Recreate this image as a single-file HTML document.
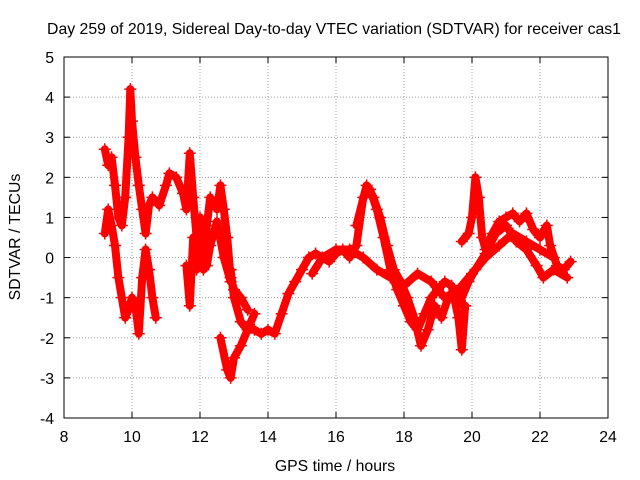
<!DOCTYPE html>
<html><head><meta charset="utf-8"><style>
html,body{margin:0;padding:0;background:#fff}
svg{display:block;font-family:"Liberation Sans",sans-serif}
</style></head><body>
<svg id="chart" width="640" height="480" xmlns="http://www.w3.org/2000/svg">
<rect width="640" height="480" fill="#fff"/>
<g id="grid"></g>
<g id="series"></g>
<rect x="64" y="57" width="544" height="361" fill="none" stroke="#000" stroke-width="1"/>
<g id="ticks"></g>
<text x="334" y="34" font-size="15.8" text-anchor="middle">Day 259 of 2019, Sidereal Day-to-day VTEC variation (SDTVAR) for receiver cas1</text>
<text x="335" y="471" font-size="15.8" text-anchor="middle">GPS time / hours</text>
<text x="0" y="0" font-size="15.8" text-anchor="middle" transform="translate(20,237) rotate(-90)">SDTVAR / TECUs</text>
</svg>
<script>
const xTicks=[8,10,12,14,16,18,20,22,24];
const yTicks=[-4,-3,-2,-1,0,1,2,3,4,5];
const track1=[[9.2,0.6],[9.3,1.2],[9.4,0.8],[9.5,0.3],[9.6,-0.5],[9.7,-1.0],[9.8,-1.5],[9.9,-1.3],[10.0,-1.0],[10.1,-1.2],[10.2,-1.9],[10.3,-0.5],[10.4,0.2],[10.5,-0.3],[10.6,-1.0],[10.7,-1.5]];
const track2=[[9.2,2.7],[9.3,2.3],[9.4,2.5],[9.5,1.8],[9.6,1.0],[9.7,0.8],[9.8,1.5],[9.9,3.0],[9.95,4.2],[10.0,3.4],[10.1,2.5],[10.2,1.8],[10.3,1.2],[10.4,0.6],[10.5,1.3],[10.6,1.5],[10.8,1.3],[11.0,1.8],[11.1,2.1],[11.3,2.0],[11.5,1.6],[11.6,1.2],[11.7,2.6],[11.8,1.5],[11.9,0.5],[12.0,0.0],[12.1,-0.3],[12.2,0.8],[12.3,1.5],[12.5,1.2],[12.6,1.8],[12.7,1.2],[12.8,0.5],[12.9,-0.5],[13.0,-0.8],[13.2,-1.0],[13.4,-1.3]];
const track3=[[11.6,-0.2],[11.7,-1.2],[11.8,0.5],[11.9,-0.3],[12.0,1.0],[12.1,0.5],[12.2,-0.2],[12.3,0.3],[12.5,0.9],[12.7,0.0],[12.9,-0.6]];
const track4=[[12.9,-0.3],[13.0,-1.0],[13.2,-1.6],[13.4,-1.8],[13.6,-1.8],[13.8,-1.9],[14.0,-1.8],[14.2,-1.9],[14.4,-1.4],[14.6,-0.9],[14.8,-0.6],[15.0,-0.3],[15.2,0.0],[15.4,0.1],[15.6,0.0],[15.8,-0.1],[16.0,0.1],[16.2,0.2],[16.4,0.0],[16.6,0.3],[16.8,1.5],[17.0,1.7],[17.2,1.2],[17.4,0.5],[17.6,-0.3],[17.8,-0.8],[18.0,-1.2],[18.2,-1.6],[18.4,-1.8],[18.6,-1.4],[18.8,-1.0],[19.0,-0.8],[19.2,-0.6],[19.4,-0.7],[19.6,-1.5],[19.7,-2.3],[19.8,-1.2]];
const track5=[[12.6,-2.0],[12.8,-2.8],[12.9,-3.0],[13.0,-2.5],[13.2,-2.2],[13.4,-1.8],[13.6,-1.4]];
const track6=[[15.3,-0.4],[15.6,0.0],[16.0,0.2],[16.4,0.2],[16.8,0.0],[17.2,-0.3],[17.6,-0.5],[18.0,-0.7],[18.4,-0.4],[18.8,-0.6],[19.2,-1.0],[19.6,-0.8],[20.0,-0.4],[20.4,0.0],[20.8,0.3],[21.2,0.6],[21.6,0.4],[22.0,0.2],[22.4,0.0]];
const track7=[[16.6,0.8],[16.9,1.8],[17.1,1.5],[17.3,1.0],[17.5,0.3],[17.7,-0.3],[17.9,-0.6],[18.1,-1.0],[18.3,-1.5],[18.5,-2.2],[18.7,-1.8],[18.9,-1.2],[19.1,-1.5],[19.3,-1.0],[19.5,-0.9]];
const track8=[[19.7,0.4],[19.9,0.6],[20.0,1.0],[20.1,2.0],[20.2,1.5],[20.3,0.5],[20.4,0.2],[20.6,0.6],[20.8,0.9],[21.0,1.0],[21.2,1.1],[21.4,0.9],[21.6,1.1],[21.8,0.7],[22.0,0.5],[22.2,0.8],[22.3,0.3],[22.5,-0.2],[22.7,-0.3],[22.9,-0.1]];
const track9=[[19.6,-1.2],[19.9,-0.6],[20.1,-0.3],[20.4,0.1],[20.7,0.6],[21.0,0.8],[21.3,0.4],[21.6,0.2],[21.9,-0.2],[22.1,-0.5],[22.4,-0.3],[22.8,-0.5]];
const tracks=[track1,track2,track3,track4,track5,track6,track7,track8,track9];

const NS="http://www.w3.org/2000/svg";
const X0=64,X1=608,Y0=418,Y1=57;
function sx(v){return X0+(v-8)/(24-8)*(X1-X0);}
function sy(v){return Y0-(v+4)/(5+4)*(Y0-Y1);}
function mk(tag,attrs,parent){const e=document.createElementNS(NS,tag);for(const k in attrs)e.setAttribute(k,attrs[k]);parent.appendChild(e);return e;}
const grid=document.getElementById('grid'),ticks=document.getElementById('ticks'),series=document.getElementById('series');
xTicks.forEach(t=>{
  const x=sx(t);
  if(t>8&&t<24){const g=mk('line',{x1:x,y1:Y1,x2:x,y2:Y0,stroke:'#a0a0a0','stroke-dasharray':'1,2'},grid);
  
  }
  mk('line',{x1:x,y1:Y0,x2:x,y2:Y0-6,stroke:'#000'},ticks);
  mk('line',{x1:x,y1:Y1,x2:x,y2:Y1+6,stroke:'#000'},ticks);
  const l=mk('text',{x:x,y:Y0+24,'font-size':15.8,'text-anchor':'middle'},ticks);l.textContent=t;
  
  
});
yTicks.forEach(t=>{
  const y=sy(t);
  if(t>-4&&t<5){const g=mk('line',{x1:X0,y1:y,x2:X1,y2:y,stroke:'#a0a0a0','stroke-dasharray':'1,2'},grid);
  
  }
  mk('line',{x1:X0,y1:y,x2:X0+6,y2:y,stroke:'#000'},ticks);
  mk('line',{x1:X1,y1:y,x2:X1-6,y2:y,stroke:'#000'},ticks);
  const l=mk('text',{x:X0-10,y:y+6,'font-size':15.8,'text-anchor':'end'},ticks);l.textContent=t;
  
  
});
tracks.forEach((tr,i)=>{
  const p=mk('polyline',{points:tr.map(d=>sx(d[0])+','+sy(d[1])).join(' '),fill:'none',stroke:'#f00','stroke-width':8,'stroke-linejoin':'round','stroke-linecap':'round'},series);
  
  
  tr.forEach(d=>{
    const x=sx(d[0]),y=sy(d[1]);
    const m=mk('path',{d:`M${x-6},${y}h12M${x},${y-6}v12`,stroke:'#f00','stroke-width':1.5},series);
    
    
  });
});
</script>
</body></html>
